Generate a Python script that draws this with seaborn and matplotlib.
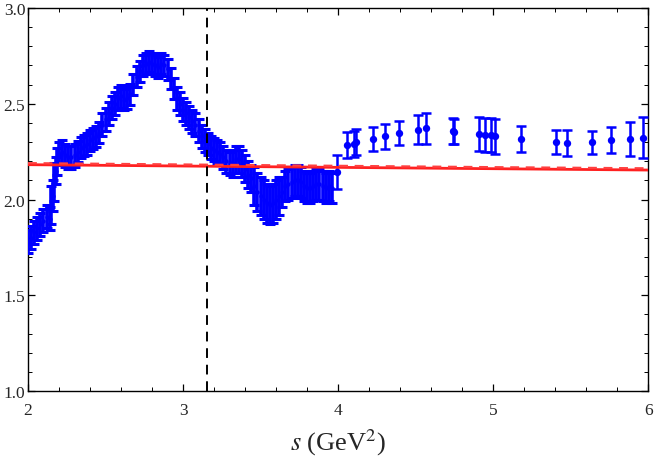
import numpy as np
import pandas as pd
import matplotlib
matplotlib.use("Agg")
import matplotlib.pyplot as plt
from matplotlib.ticker import MultipleLocator, FuncFormatter
import seaborn as sns

# Dense data region (s in GeV^2)
s_dense = [2.00, 2.02, 2.04, 2.06, 2.08, 2.10, 2.12, 2.14, 2.15, 2.16,
           2.17, 2.18, 2.19,
           2.20, 2.22, 2.24, 2.26, 2.28, 2.30, 2.32, 2.34, 2.36, 2.38,
           2.40, 2.42, 2.44, 2.46, 2.48, 2.50, 2.52, 2.54, 2.56, 2.58,
           2.60, 2.62, 2.64, 2.66, 2.68, 2.70, 2.72, 2.74, 2.76, 2.78,
           2.80, 2.82, 2.84, 2.86, 2.88, 2.90, 2.92, 2.94, 2.96, 2.98,
           3.00, 3.02, 3.04, 3.06, 3.08, 3.10, 3.12, 3.14, 3.16, 3.18,
           3.20, 3.22, 3.24, 3.26, 3.28, 3.30, 3.32, 3.34, 3.36, 3.38,
           3.40, 3.42, 3.44, 3.46, 3.48, 3.50, 3.52, 3.54, 3.56, 3.58,
           3.60, 3.62, 3.64, 3.66, 3.68, 3.70, 3.72, 3.74, 3.76, 3.78,
           3.80, 3.82, 3.84, 3.86, 3.88, 3.90, 3.92, 3.94, 3.96]
y_dense = [1.78, 1.80, 1.83, 1.85, 1.87, 1.89, 1.91, 1.90, 1.97, 2.02,
           2.09, 2.15, 2.20,
           2.24, 2.25, 2.23, 2.22, 2.22, 2.23, 2.25, 2.27, 2.28, 2.29,
           2.31, 2.32, 2.33, 2.35, 2.39, 2.42, 2.45, 2.48, 2.50, 2.53,
           2.54, 2.52, 2.53, 2.55, 2.60, 2.64, 2.67, 2.70, 2.71, 2.72,
           2.71, 2.70, 2.69, 2.71, 2.70, 2.68, 2.63, 2.58, 2.53, 2.50,
           2.47, 2.45, 2.43, 2.41, 2.39, 2.36, 2.33, 2.31, 2.29, 2.27,
           2.26, 2.25, 2.24, 2.22, 2.20, 2.19, 2.19, 2.21, 2.21, 2.19,
           2.16, 2.13, 2.11, 2.07, 2.04, 2.02, 2.00, 1.98, 1.97, 1.98,
           2.00, 2.02, 2.04, 2.07, 2.08, 2.09, 2.10, 2.10, 2.09, 2.07,
           2.06, 2.06, 2.07, 2.08, 2.08, 2.07, 2.06, 2.07, 2.06]
e_dense = ([0.06] * 8 + [0.10, 0.08, 0.10, 0.07, 0.07] + [0.06] * 6
           + [0.055] * 8 + [0.06] * 7 + [0.055] * 17 + [0.06] * 18
           + [0.07] * 7 + [0.10] * 9 + [0.08] * 17)

# Sparse data region
s_sparse = [3.99, 4.06, 4.10, 4.116, 4.224, 4.305, 4.39, 4.514, 4.566, 4.74, 4.75,
            4.91, 4.95, 4.985, 5.015, 5.18, 5.406, 5.475, 5.64, 5.76, 5.88, 5.97]
y_sparse = [2.145, 2.285, 2.29, 2.30, 2.316, 2.33, 2.347, 2.365, 2.372, 2.358, 2.355,
            2.342, 2.337, 2.337, 2.33, 2.316, 2.30, 2.295, 2.30, 2.31, 2.316, 2.323]
e_sparse = [0.09, 0.068, 0.07, 0.07, 0.065, 0.064, 0.063, 0.076, 0.081, 0.067, 0.067,
            0.088, 0.09, 0.09, 0.09, 0.07, 0.063, 0.07, 0.06, 0.068, 0.087, 0.106]

# Red theory curves
s_line = [2.0, 3.0, 4.0, 5.0, 6.0]
y_solid = [2.182, 2.175, 2.168, 2.161, 2.154]
y_dashed = [2.190, 2.183, 2.176, 2.169, 2.163]

s_vline = 3.157

sns.set_style("ticks")
plt.rcParams["font.family"] = ["Liberation Serif", "DejaVu Serif"]
plt.rcParams["mathtext.fontset"] = "stix"

fig = plt.figure(figsize=(6.54, 4.64), dpi=100)
ax = fig.add_axes([0.0428, 0.155, 0.9482, 0.8256])

blue = "#0000ff"
ax.errorbar(s_dense, y_dense, yerr=e_dense, fmt="none", ecolor=blue,
            elinewidth=2.6, capsize=3.5, capthick=2.2, zorder=3)
sns.scatterplot(x=s_dense, y=y_dense, color=blue, s=10, linewidth=0, ax=ax, zorder=3)
ax.errorbar(s_sparse, y_sparse, yerr=e_sparse, fmt="none", ecolor=blue,
            elinewidth=1.8, capsize=3.5, capthick=1.8, zorder=3)
sns.scatterplot(x=s_sparse, y=y_sparse, color=blue, s=28, linewidth=0, ax=ax, zorder=4)

df_lines = pd.DataFrame({"s": s_line * 2, "y": y_solid + y_dashed,
                         "kind": ["solid"] * len(s_line) + ["dashed"] * len(s_line)})
sns.lineplot(data=df_lines[df_lines.kind == "solid"], x="s", y="y", color="#ff2020",
             linewidth=2.0, ax=ax, zorder=5)
sns.lineplot(data=df_lines[df_lines.kind == "dashed"], x="s", y="y", color="#ff4040",
             linewidth=1.6, ax=ax, zorder=5, linestyle=(0, (4, 3)))

ax.axvline(s_vline, color="black", linewidth=1.4, linestyle=(0, (5, 3.5)), zorder=6)

ax.set_xlim(2, 6)
ax.set_ylim(1.0, 3.0)
ax.xaxis.set_major_locator(MultipleLocator(1))
ax.xaxis.set_minor_locator(MultipleLocator(0.2))
ax.yaxis.set_major_locator(MultipleLocator(0.5))
ax.yaxis.set_minor_locator(MultipleLocator(0.1))
ax.xaxis.set_major_formatter(FuncFormatter(lambda v, p: f"{v:.0f}"))
ax.yaxis.set_major_formatter(FuncFormatter(lambda v, p: f"{v:.1f}"))

ax.tick_params(which="both", direction="in", top=True, right=True, color="black")
ax.tick_params(which="major", length=5, width=0.9, labelsize=12.5)
ax.tick_params(axis="x", which="major", pad=8)
ax.tick_params(axis="y", which="major", pad=2)
ax.tick_params(which="minor", length=2.8, width=0.7)
for sp in ax.spines.values():
    sp.set_visible(True)
    sp.set_linewidth(1.0)
    sp.set_color("black")

ax.set_xlabel(r"$s$ (GeV$^2$)", fontsize=19, labelpad=6)
ax.set_ylabel("")
if ax.get_legend() is not None:
    ax.get_legend().remove()

fig.savefig("out.png", dpi=100)
